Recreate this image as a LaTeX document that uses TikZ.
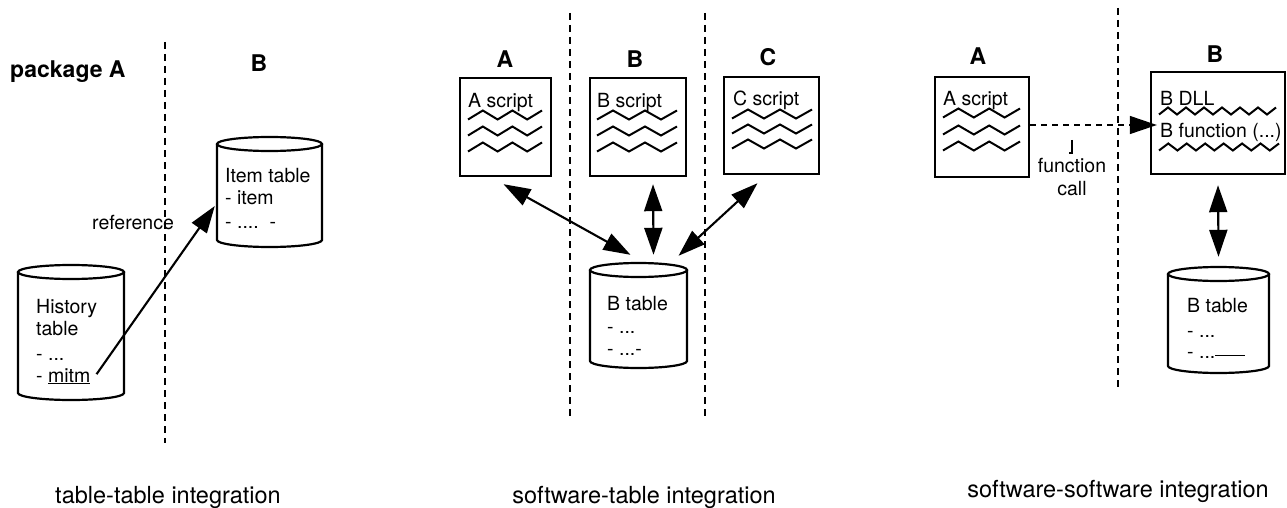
\documentclass[tikz,border=0pt]{standalone}
\usepackage{fontspec}
\setmainfont{TeX Gyre Heros}
\usetikzlibrary{arrows.meta}

\tikzset{
  body/.style={font=\fontsize{19.5}{23}\selectfont, inner sep=0pt, anchor=base west},
  head/.style={font=\bfseries\fontsize{23}{27}\selectfont, inner sep=0pt, anchor=base},
  caption/.style={font=\fontsize{23.5}{28}\selectfont, inner sep=0pt, anchor=base},
  divider/.style={line width=1.4pt, dash pattern=on 7pt off 5pt},
  scriptbox/.style={draw, line width=2.4pt, inner sep=0pt},
  wave/.style={line width=2pt, line join=miter},
  bigtip/.tip={Triangle[length=27pt,width=18pt]},
  link/.style={line width=2.1pt, bigtip-bigtip},
  ref/.style={line width=2.1pt, -bigtip},
  call/.style={line width=1.4pt, dash pattern=on 6pt off 5pt, -bigtip},
}

% zigzag text line: x start, x end, y (downward), number of half periods, amplitude
\newcommand\zigline[5]{%
  \draw[wave] plot[samples at={0,...,#4}]
    ({#1+\x*(#2-#1)/#4}, {-#3-#5*cos(180*\x)});
}

% database drum: name, left, top, right, bottom (y measured downward)
\newcommand\dbdrum[5]{%
  \pgfmathsetmacro\dbw{#4-#2}%
  \pgfmathsetmacro\dbh{#5-#3}%
  \node[minimum width=\dbw pt, minimum height=\dbh pt, inner sep=0pt]
    (#1) at ({(#2+#4)/2},{-(#3+#5)/2}) {};
  \draw[line width=2.2pt] (#2,{-(#3+7)}) -- (#2,{-(#5-7)})
    arc[start angle=180, end angle=360, x radius={\dbw/2}, y radius=7]
    -- (#4,{-(#3+7)});
  \draw[line width=2.2pt] ({(#2+#4)/2},{-(#3+7)})
    ellipse[x radius={\dbw/2}, y radius=7];
}

\begin{document}
\begin{tikzpicture}[x=1pt, y=1pt]
\useasboundingbox (0,0) rectangle (1287,-508);

% ---------- table-table integration ----------
\draw[divider] (165,-42) -- (165,-443);
\node[head, anchor=base west] (pkgA) at (10,-78) {package A};
\node[head] (pkgB) at (259,-72) {B};

\dbdrum{itemdb}{217}{137}{322}{247}
\node[body] (item1) at (225,-182) {Item table};
\node[body] (item2) at (225,-204) {- item};
\node[body] (item3) at (225,-228) {- ....\ \ -};

\dbdrum{histdb}{18}{265}{124}{400}
\node[body] (hist1) at (36,-313) {History};
\node[body] (hist2) at (36,-335) {table};
\node[body] (hist3) at (36,-360) {- ...};
\node[body] (mitm) at (36,-382) {- \underline{mitm}};

\node[body] (reflabel) at (92,-229) {reference};
\draw[ref] ([xshift=6pt,yshift=2pt]mitm.east) -- ([xshift=-2pt,yshift=-14pt]itemdb.west);

\node[caption] (cap1) at (168,-503) {table-table integration};

% ---------- software-table integration ----------
\draw[divider] (570,-13) -- (570,-417);
\draw[divider] (705,-13) -- (705,-417);
\node[head] (hA) at (505,-68) {A};
\node[head] (hB) at (635,-68) {B};
\node[head] (hC) at (768,-66) {C};

\node[scriptbox, minimum width=91pt, minimum height=98pt] (sa) at (505.5,-127) {};
\node[body] (sat) at (468,-108) {A script};
\foreach \y in {115,131,147} {\zigline{468}{542}{\y}{5}{4.5}}

\node[scriptbox, minimum width=96pt, minimum height=98pt] (sb) at (638,-127) {};
\node[body] (sbt) at (597,-108) {B script};
\foreach \y in {115,131,147} {\zigline{597}{677}{\y}{5}{4.5}}

\node[scriptbox, minimum width=95pt, minimum height=97pt] (sc) at (771.5,-125.5) {};
\node[body] (sct) at (733,-106) {C script};
\foreach \y in {114,129,144} {\zigline{732}{812}{\y}{5}{4.5}}

\dbdrum{btab}{590}{263}{687}{368}
\node[body] (bt1) at (607,-310) {B table};
\node[body] (bt2) at (607,-333) {- ...};
\node[body] (bt3) at (607,-355) {- ...-};

\draw[link] ([xshift=-2pt,yshift=-7pt]sa.south) -- ([xshift=-8pt,yshift=8pt]btab.north);
\draw[link] ([xshift=15pt,yshift=-7pt]sb.south) -- ([xshift=15pt,yshift=8pt]btab.north);
\draw[link] ([xshift=-14pt,yshift=-8pt]sc.south) -- ([xshift=40pt,yshift=7pt]btab.north);

\node[caption] (cap2) at (644,-503) {software-table integration};

% ---------- software-software integration ----------
\draw[divider] (1118,-8) -- (1118,-390);
\node[head] (h3A) at (978,-65) {A};
\node[head] (h3B) at (1215,-63) {B};

\node[scriptbox, minimum width=94pt, minimum height=100pt] (pa) at (982,-127) {};
\node[body] (pat) at (943,-106) {A script};
\foreach \y in {113,130,146} {\zigline{943}{1020}{\y}{5}{4.5}}

\node[scriptbox, minimum width=134pt, minimum height=102pt] (dll) at (1218,-123) {};
\node[body] (dll1) at (1160,-106) {B DLL};
\node[body] (dll2) at (1160,-138) {B function (...)};
\zigline{1159}{1276}{111}{13}{3.5}
\zigline{1159}{1279}{147}{13}{3.5}

\draw[call] ([yshift=2pt]pa.east) -- ([xshift=7pt,yshift=-2pt]dll.west);
\draw[line width=1.4pt] (1072,-140) -- (1072,-153) -- (1069,-153);
\node[body, anchor=base] (fc1) at (1072,-172) {function};
\node[body, anchor=base] (fc2) at (1072,-195) {call};

\dbdrum{btab3}{1168}{267}{1269}{373}
\node[body] (b3t1) at (1187,-312) {B table};
\node[body] (b3t2) at (1187,-337) {- ...};
\node[body] (b3t3) at (1187,-358) {- ...\rule[0.25ex]{1.5em}{0.7pt}};

\draw[link] ([yshift=-10pt]dll.south) -- ([yshift=10pt]btab3.north);

\node[caption] (cap3) at (1118,-497) {software-software integration};
\end{tikzpicture}
\end{document}
